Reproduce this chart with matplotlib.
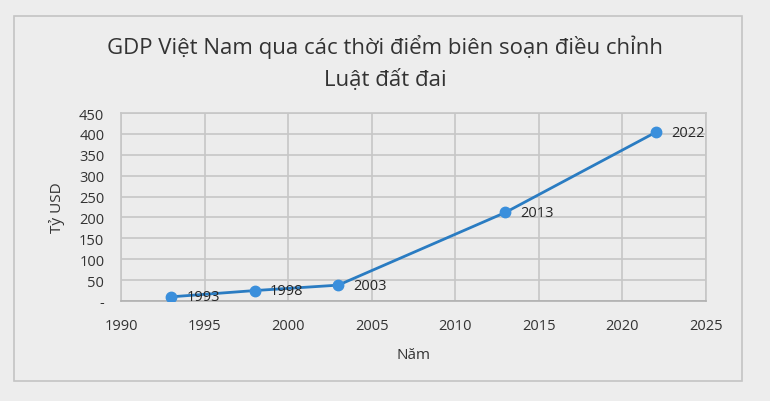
import matplotlib.pyplot as plt
from matplotlib.patches import Rectangle

# data
years = [1993, 1998, 2003, 2013, 2022]
gdp = [10, 25, 38, 212, 404]
labels = ['1993', '1998', '2003', '2013', '2022']
yticks = [0, 50, 100, 150, 200, 250, 300, 350, 400, 450]
ytick_labels = ['-', '50', '100', '150', '200', '250', '300', '350', '400', '450']
xticks = [1990, 1995, 2000, 2005, 2010, 2015, 2020, 2025]

plt.rcParams['font.family'] = ['Open Sans', 'DejaVu Sans']

fig = plt.figure(figsize=(7.7, 4.02), dpi=100)
fig.patch.set_facecolor('#ededed')

# outer chart frame
frame = Rectangle((14 / 770, 1 - 382 / 402), 728 / 770, 365 / 402,
                  transform=fig.transFigure, facecolor='none',
                  edgecolor='#c4c4c4', linewidth=1.2, zorder=-1)
fig.patches.append(frame)

ax = fig.add_axes([121 / 770, 1 - 302 / 402, 585 / 770, 188 / 402])
ax.set_facecolor('#ececec')

ax.plot(years, gdp, '-', color='#2a7cc2', linewidth=2, zorder=3)
ax.plot(years, gdp, 'o', color='#3a8fdc', markersize=7.5, zorder=4)
for x, y, t in zip(years, gdp, labels):
    ax.annotate(t, (x, y), xytext=(11, 0), textcoords='offset points',
                va='center', ha='left', fontsize=10.5, color='#262626', zorder=5)

ax.set_xlim(1990, 2025)
ax.set_ylim(0, 450)
ax.set_xticks(xticks)
ax.set_yticks(yticks)
ax.set_yticklabels(ytick_labels)
ax.grid(True, color='#c6c6c6', linewidth=1.2)
ax.set_axisbelow(True)
for s in ax.spines.values():
    s.set_color('#c6c6c6')
    s.set_linewidth(1.2)
ax.spines['bottom'].set_color('#b0b0b0')
ax.tick_params(length=0, labelsize=10.5, colors='#333333')
ax.tick_params(axis='x', pad=12)
ax.tick_params(axis='y', pad=12)

ax.set_xlabel('Năm', fontsize=11, color='#333333', labelpad=10)
ax.set_ylabel('Tỷ USD', fontsize=11, color='#333333', labelpad=10)

fig.text(0.5, 1 - 47 / 402, 'GDP Việt Nam qua các thời điểm biên soạn điều chỉnh',
         ha='center', va='center', fontsize=16, color='#333333')
fig.text(0.5, 1 - 80 / 402, 'Luật đất đai',
         ha='center', va='center', fontsize=16, color='#333333')

plt.savefig('out.png', dpi=100, facecolor=fig.get_facecolor())
